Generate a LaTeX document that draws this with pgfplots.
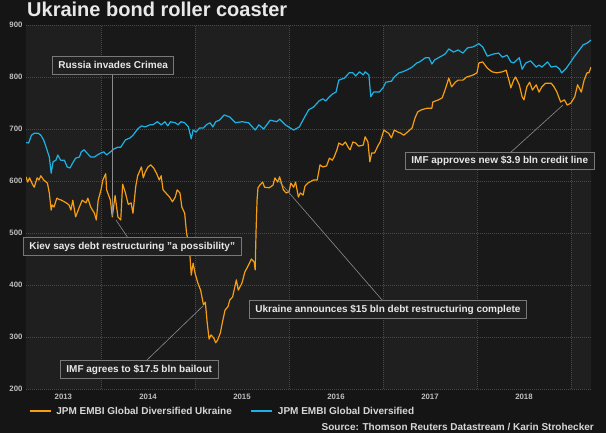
\documentclass[border=0pt]{standalone}
\usepackage{fontspec}
\setmainfont{Liberation Sans}
\usepackage{pgfplots}
\usepackage{pgfplotstable}
\pgfplotsset{compat=1.18}
\definecolor{pagebg}{RGB}{21,21,21}
\definecolor{bandlight}{RGB}{31,31,31}
\definecolor{banddark}{RGB}{25,25,25}
\definecolor{gridc}{RGB}{72,72,72}
\definecolor{ukr}{RGB}{245,158,20}
\definecolor{embi}{RGB}{28,178,230}
\definecolor{ticktext}{RGB}{190,190,190}
\definecolor{legendtext}{RGB}{215,215,215}
\definecolor{titlec}{RGB}{232,232,232}
\definecolor{annotbox}{RGB}{32,32,32}
\definecolor{annotborder}{RGB}{120,120,120}
\definecolor{annotline}{RGB}{140,140,140}

\pgfplotstableread{
x y
2013.202 608
2013.22 598
2013.24 606
2013.27 594
2013.29 588
2013.32 606
2013.34 602
2013.36 610
2013.39 602
2013.43 596
2013.45 577
2013.47 544
2013.48 554
2013.50 550
2013.53 567
2013.55 565
2013.58 563
2013.63 558
2013.66 554
2013.68 544
2013.70 563
2013.73 531
2013.77 550
2013.80 563
2013.84 558
2013.86 567
2013.89 550
2013.93 538
2013.95 525
2013.97 563
2014.00 583
2014.02 602
2014.05 614
2014.06 583
2014.10 563
2014.12 531
2014.15 572
2014.18 531
2014.21 525
2014.23 594
2014.26 577
2014.29 555
2014.32 558
2014.34 538
2014.37 590
2014.39 610
2014.43 627
2014.45 606
2014.47 617
2014.50 627
2014.53 631
2014.56 625
2014.59 615
2014.62 602
2014.64 610
2014.66 583
2014.69 577
2014.73 569
2014.76 560
2014.79 569
2014.81 583
2014.84 577
2014.86 550
2014.89 538
2014.91 500
2014.94 473
2014.96 419
2014.98 442
2015.00 423
2015.03 404
2015.06 390
2015.09 362
2015.11 367
2015.13 327
2015.15 296
2015.17 304
2015.20 298
2015.22 289
2015.24 294
2015.27 308
2015.29 327
2015.32 352
2015.35 358
2015.37 371
2015.40 377
2015.44 410
2015.46 390
2015.50 404
2015.53 425
2015.56 435
2015.60 450
2015.63 444
2015.64 429
2015.65 506
2015.66 563
2015.67 587
2015.69 592
2015.72 598
2015.74 588
2015.79 587
2015.83 592
2015.85 606
2015.88 598
2015.90 608
2015.94 583
2015.97 577
2016.00 579
2016.02 596
2016.05 588
2016.07 598
2016.10 569
2016.12 577
2016.15 573
2016.17 590
2016.20 596
2016.26 602
2016.30 602
2016.33 631
2016.36 627
2016.40 629
2016.43 644
2016.46 640
2016.48 646
2016.51 660
2016.53 673
2016.57 669
2016.60 675
2016.63 665
2016.65 660
2016.68 675
2016.71 673
2016.74 667
2016.79 669
2016.81 685
2016.84 675
2016.86 637
2016.88 654
2016.91 654
2016.95 669
2016.97 675
2017.01 698
2017.04 694
2017.06 692
2017.09 683
2017.12 698
2017.16 694
2017.19 692
2017.22 688
2017.26 694
2017.31 702
2017.34 721
2017.37 733
2017.41 737
2017.47 740
2017.52 740
2017.53 752
2017.59 756
2017.63 760
2017.66 775
2017.70 798
2017.73 781
2017.77 790
2017.80 794
2017.85 794
2017.89 800
2017.93 802
2017.96 804
2018.00 808
2018.02 827
2018.06 829
2018.11 817
2018.16 810
2018.21 808
2018.27 810
2018.31 813
2018.34 794
2018.36 779
2018.39 794
2018.41 800
2018.45 785
2018.48 762
2018.50 756
2018.53 781
2018.56 790
2018.59 775
2018.63 785
2018.66 771
2018.69 781
2018.73 788
2018.79 788
2018.82 781
2018.85 771
2018.89 752
2018.93 756
2018.96 746
2019.00 750
2019.04 762
2019.07 785
2019.11 771
2019.14 794
2019.17 808
2019.19 808
2019.213 819
}\ukraine

\pgfplotstableread{
x y
2013.202 674
2013.23 673
2013.26 688
2013.29 692
2013.33 692
2013.36 688
2013.39 679
2013.42 663
2013.45 646
2013.47 615
2013.49 637
2013.52 640
2013.54 650
2013.57 640
2013.61 640
2013.64 627
2013.67 625
2013.70 635
2013.73 644
2013.77 646
2013.79 656
2013.82 660
2013.85 654
2013.89 646
2013.93 646
2013.96 650
2014.00 654
2014.03 656
2014.06 650
2014.10 656
2014.14 662
2014.18 665
2014.21 665
2014.26 679
2014.31 683
2014.34 688
2014.39 700
2014.43 706
2014.47 704
2014.52 708
2014.55 708
2014.60 714
2014.64 708
2014.68 714
2014.71 706
2014.74 714
2014.79 712
2014.82 708
2014.85 714
2014.89 712
2014.93 704
2014.96 681
2014.98 698
2015.01 694
2015.05 702
2015.09 702
2015.12 708
2015.16 712
2015.19 704
2015.22 714
2015.26 717
2015.31 727
2015.37 723
2015.43 712
2015.50 714
2015.57 712
2015.64 698
2015.68 708
2015.73 700
2015.80 717
2015.87 714
2015.90 719
2015.96 708
2016.05 698
2016.11 704
2016.16 721
2016.21 737
2016.26 742
2016.29 748
2016.32 754
2016.36 758
2016.39 754
2016.43 762
2016.46 767
2016.50 771
2016.53 794
2016.59 798
2016.64 808
2016.68 808
2016.71 802
2016.75 810
2016.79 804
2016.81 810
2016.85 804
2016.87 762
2016.90 771
2016.96 771
2017.00 779
2017.03 790
2017.09 792
2017.12 800
2017.17 808
2017.21 810
2017.26 814
2017.31 819
2017.36 827
2017.39 829
2017.45 837
2017.49 837
2017.52 825
2017.55 833
2017.61 839
2017.66 844
2017.70 854
2017.75 848
2017.80 852
2017.85 846
2017.90 856
2017.96 858
2018.02 864
2018.06 858
2018.11 840
2018.17 844
2018.23 846
2018.27 838
2018.32 842
2018.36 829
2018.39 827
2018.45 837
2018.48 815
2018.52 827
2018.57 831
2018.63 819
2018.66 823
2018.69 819
2018.75 829
2018.79 819
2018.84 821
2018.88 815
2018.90 808
2018.95 817
2018.99 827
2019.03 838
2019.09 852
2019.13 862
2019.17 865
2019.213 871
}\embi

\begin{document}
\begin{tikzpicture}
\fill[pagebg] (0,0) rectangle (606bp,433bp);
% year bands behind the axis (x in px: Jan of each year at 101 + 94*(year-2014))
\fill[bandlight] (26bp,44bp)  rectangle (101bp,408bp);
\fill[banddark]  (101bp,44bp) rectangle (195bp,408bp);
\fill[bandlight] (195bp,44bp) rectangle (289bp,408bp);
\fill[banddark]  (289bp,44bp) rectangle (383bp,408bp);
\fill[bandlight] (383bp,44bp) rectangle (477bp,408bp);
\fill[banddark]  (477bp,44bp) rectangle (571bp,408bp);
\fill[bandlight] (571bp,44bp) rectangle (591bp,408bp);
\begin{axis}[
  at={(26bp,44bp)}, anchor=south west,
  scale only axis, width=565bp, height=364bp,
  xmin=2013.202, xmax=2019.213, ymin=200, ymax=900,
  axis line style={draw=none},
  tick style={draw=none},
  major tick length=0pt,
  ytick={200,300,400,500,600,700,800,900},
  xtick={2013.6,2014.5,2015.5,2016.5,2017.5,2018.5},
  xticklabels={2013,2014,2015,2016,2017,2018},
  ymajorgrids,
  extra x ticks={2014,2015,2016,2017,2018,2019},
  extra x tick labels={},
  extra x tick style={grid=major},
  grid style={gridc, dash pattern=on 0.8bp off 1.2bp, line width=0.6bp},
  /pgf/number format/assume math mode=true,
  yticklabel style={font=\fontsize{7.8bp}{9bp}\selectfont\bfseries, text=ticktext},
  xticklabel style={font=\fontsize{7.8bp}{9bp}\selectfont\bfseries, text=ticktext, yshift=-2bp},
  legend columns=2,
  legend image code/.code={\draw[#1, line width=1.1bp] (0bp,0bp) -- (21bp,0bp);},
  legend style={at={(0.0053,-0.0604)}, anchor=west, draw=none, fill=none,
    inner xsep=0pt, inner ysep=0pt,
    nodes={inner sep=0pt, text depth=0pt},
    font=\fontsize{10bp}{12bp}\selectfont\bfseries, text=legendtext,
    /tikz/every odd column/.append style={column sep=5bp},
    /tikz/every even column/.append style={column sep=19bp}},
]
\addplot[ukr, line width=1.2bp, line join=round] table[x=x, y=y] {\ukraine};
\addlegendentry{JPM EMBI Global Diversified Ukraine}
\addplot[embi, line width=1.2bp, line join=round] table[x=x, y=y] {\embi};
\addlegendentry{JPM EMBI Global Diversified}
\end{axis}
\begin{scope}[shift={(0,433bp)}, x=1bp, y=-1bp]
  \node[anchor=base west, inner sep=0pt, text=titlec,
        font=\fontsize{20bp}{24bp}\selectfont\bfseries] at (27,17) {Ukraine bond roller coaster};
  \node[anchor=base east, inner sep=0pt, text=legendtext,
        font=\fontsize{10bp}{12bp}\selectfont\bfseries] at (594,431) {Source: Thomson Reuters Datastream / Karin Strohecker};
  \begin{scope}[annotline, line width=0.6bp]
    \draw (112.5,74) -- (112.5,216);
    \draw (116,220) -- (128,238);
    \draw (146,361) -- (203,306);
    \draw (278,180) -- (383,301);
    \draw (510,153) -- (563,105);
  \end{scope}
  \tikzset{annot/.style={anchor=west, draw=annotborder, line width=0.8bp, fill=annotbox,
     text=titlec, font=\fontsize{10bp}{12bp}\selectfont\bfseries,
     inner xsep=6bp, inner ysep=4bp, text height=7.2bp, text depth=2bp}}
  \node[annot] at (52,65.5) {Russia invades Crimea};
  \node[annot] at (23,246.5) {Kiev says debt restructuring "a possibility"};
  \node[annot] at (60,369.5) {IMF agrees to \$17.5 bln bailout};
  \node[annot] at (249,309.5) {Ukraine announces \$15 bln debt restructuring complete};
  \node[annot] at (405,161) {IMF approves new \$3.9 bln credit line};
\end{scope}
\pgfresetboundingbox
\path (0,0) rectangle (606bp,433bp);
\end{tikzpicture}
\end{document}
